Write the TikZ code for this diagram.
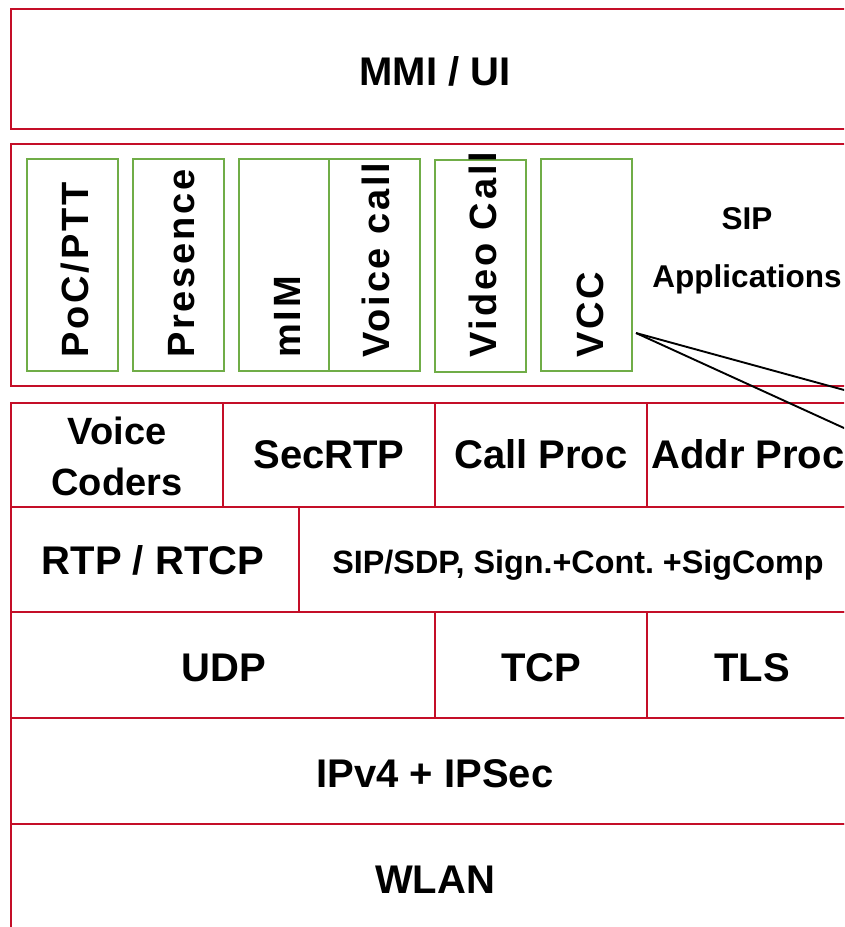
\documentclass[tikz,border=0pt]{standalone}
\usepackage{fontspec}
\setmainfont{Liberation Sans}
\newfontfamily\spacedfont[LetterSpace=7.5]{Liberation Sans}
\usetikzlibrary{fit}
\definecolor{layerred}{RGB}{196,14,40}
\definecolor{appgreen}{RGB}{112,173,71}
\frenchspacing

% a layer cell spanning (x1,y1)-(x2,y2)
\newcommand\cellbox[6][]{\node[layer,#1,fit={(#3,#4) (#5,#6)}] (#2) {};}

\begin{document}
\begin{tikzpicture}[x=1pt,y=-1pt,
  layer/.style={draw=layerred, line width=1.9pt, inner sep=0pt, outer sep=0pt},
  appbox/.style={layer, draw=appgreen, line width=1.6pt},
  big/.style={font=\fontsize{40}{40}\selectfont\bfseries, inner sep=0pt, anchor=base},
  mid/.style={font=\fontsize{38}{38}\selectfont\bfseries, inner sep=0pt, anchor=base},
  small/.style={font=\fontsize{31.5}{31.5}\selectfont\bfseries, inner sep=0pt, anchor=base},
  vert/.style={font=\spacedfont\fontsize{38}{38}\selectfont\bfseries, inner sep=0pt,
    rotate=90, anchor=base west},
  link/.style={draw=black, line width=1.9pt}]
\useasboundingbox (0,0) rectangle (844,927);
\clip (0,0) rectangle (844,927);

% top layer
\cellbox{mmi}{11}{9}{858}{129}
\node[big] (t-mmi) at (435,85) {MMI / UI};

% SIP application layer
\cellbox{sipapps}{11}{144}{858}{386}
\cellbox[appbox]{poc}{27}{159}{118}{371}
\cellbox[appbox]{pres}{133}{159}{224}{371}
\cellbox[appbox]{mim}{239}{159}{329}{371}
\cellbox[appbox]{voicecall}{329}{159}{420}{371}
\cellbox[appbox]{videocall}{435}{160}{526}{372}
\cellbox[appbox]{vcc}{541}{159}{632}{371}
\node[vert] (t-poc) at (88,358) {PoC/PTT};
\node[vert] (t-pres) at (194,358) {Presence};
\node[vert] (t-mim) at (300,358) {mIM};
\node[vert] (t-voice) at (389,358) {Voice call};
\node[vert] (t-video) at (496,358) {Video Call};
\node[vert] (t-vcc) at (603,358) {VCC};
\node[small] (t-sip) at (747,229) {SIP};
\node[small] (t-apps) at (747,287) {Applications};

% media / signalling layer
\cellbox{coders}{11}{403}{223}{507}
\cellbox{secrtp}{223}{403}{435}{507}
\cellbox{callproc}{435}{403}{647}{507}
\cellbox{addrproc}{647}{403}{858}{507}
\node[mid] (t-voicec) at (117,444) {Voice};
\node[mid] (t-coders) at (117,495) {Coders};
\node[big] (t-secrtp) at (329,468) {SecRTP};
\node[big] (t-callproc) at (541,468) {Call Proc};
\node[big] (t-addrproc) at (748,468) {Addr Proc};

\cellbox{rtp}{11}{507}{299}{612}
\cellbox{sipsdp}{299}{507}{858}{612}
\node[big] (t-rtp) at (153,574) {RTP / RTCP};
\node[small, font=\fontsize{32.3}{32.3}\selectfont\bfseries] (t-sipsdp) at (578,573) {SIP/SDP, Sign.+Cont. +SigComp};

% transport layer
\cellbox{udp}{11}{612}{435}{718}
\cellbox{tcp}{435}{612}{647}{718}
\cellbox{tls}{647}{612}{858}{718}
\node[big] (t-udp) at (224,681) {UDP};
\node[big] (t-tcp) at (541,681) {TCP};
\node[big] (t-tls) at (752,681) {TLS};

% network and link layers
\cellbox{ipv4}{11}{718}{858}{824}
\node[big] (t-ipv4) at (435,787) {IPv4 + IPSec};
\cellbox{wlan}{11}{824}{858}{945}
\node[big] (t-wlan) at (435,893) {WLAN};

% callout lines leaving the VCC box
\coordinate (vccpin) at (636,333);
\coordinate (farA) at (900,405.3);
\coordinate (farB) at (900,453.6);
\draw[link] (vccpin) -- (farA);
\draw[link] (vccpin) -- (farB);
\end{tikzpicture}
\end{document}
